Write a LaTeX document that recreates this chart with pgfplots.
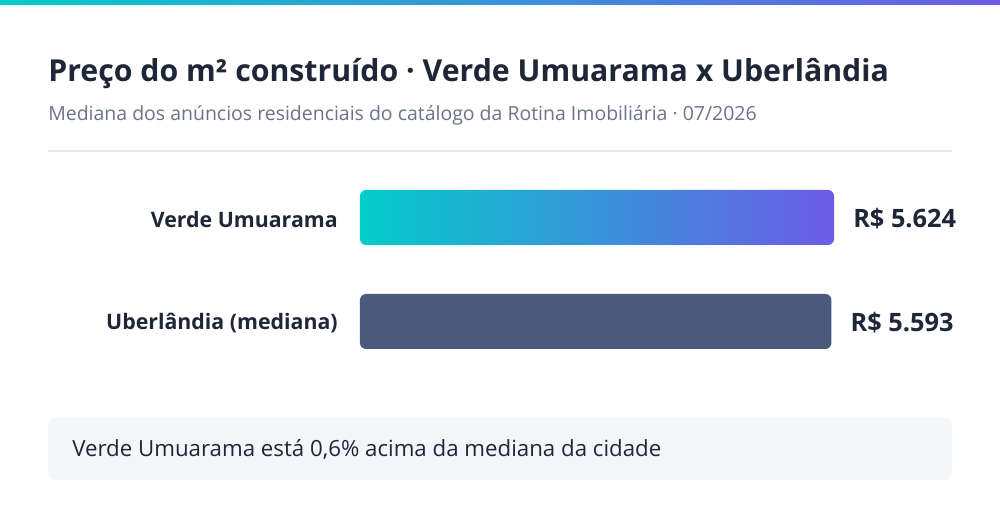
\documentclass[border=0pt]{standalone}
\usepackage{pgfplots}
\pgfplotsset{compat=1.18}
\usepackage{fontspec}
\setmainfont{Open Sans}
\definecolor{ink}{HTML}{1E2638}
\definecolor{subgray}{HTML}{6B7487}
\definecolor{rulegray}{HTML}{E5E7EB}
\definecolor{boxgray}{HTML}{F4F6FA}
\definecolor{gradA}{HTML}{04CCCA}
\definecolor{gradB}{HTML}{3A90D8}
\definecolor{gradC}{HTML}{6D5BE6}
\definecolor{slate}{HTML}{4A5A7C}

\begin{document}
\begin{tikzpicture}[x=0.75pt, y=-0.75pt]
% page and top strip
\fill[white] (0,0) rectangle (1000,520);
\shade[left color=gradA, middle color=gradB, right color=gradC] (0,0) rectangle (1000,5);

% title block
\node[anchor=base west, inner sep=0pt, text=ink, font=\bfseries\fontsize{22.7pt}{26pt}\selectfont]
  at (48,82) {Preço do m² construído · Verde Umuarama x Uberlândia};
\node[anchor=base west, inner sep=0pt, text=subgray, font=\fontsize{14.6pt}{17pt}\selectfont]
  at (48,121) {Mediana dos anúncios residenciais do catálogo da Rotina Imobiliária · 07/2026};
\draw[rulegray, line width=1.5pt] (48,151) -- (952,151);

% bars
\begin{axis}[
    at={(270pt,-280.125pt)}, anchor=south west,
    scale only axis,
    width=355.5pt, height=156pt,
    xmin=0, xmax=5624,
    ymin=-0.5, ymax=1.5,
    axis line style={draw=none},
    xtick=\empty,
    ytick={0,1},
    yticklabels={Uberlândia (mediana), Verde Umuarama},
    major tick length=0pt,
    y tick label style={anchor=east, inner sep=0pt, xshift=-16.5pt, yshift=-1.2pt, text=ink,
        font=\bfseries\fontsize{16pt}{19pt}\selectfont},
    xbar, bar width=41.25pt, bar shift=0pt,
    point meta=x,
    nodes near coords={R\$ \pgfmathprintnumber{\pgfplotspointmeta}},
    nodes near coords align={horizontal},
    every node near coord/.append style={anchor=west, inner sep=0pt, xshift=14.25pt, yshift=-1.2pt,
        text=ink, font=\bfseries\fontsize{19pt}{22pt}\selectfont,
        /pgf/number format/.cd, 1000 sep={.}, assume math mode=true},
    clip=false,
]
\addplot[draw=none, left color=gradA, middle color=gradB, right color=gradC,
    rounded corners=4.5pt] coordinates {(5624,1)};
\addplot[draw=none, fill=slate, rounded corners=4.5pt] coordinates {(5593,0)};
\end{axis}

% footer note
\fill[boxgray, rounded corners=6pt] (48,418) rectangle (952,480);
\node[anchor=base west, inner sep=0pt, text=ink, font=\fontsize{16.7pt}{19pt}\selectfont]
  at (72,456) {Verde Umuarama está 0,6\% acima da mediana da cidade};
\end{tikzpicture}
\end{document}
